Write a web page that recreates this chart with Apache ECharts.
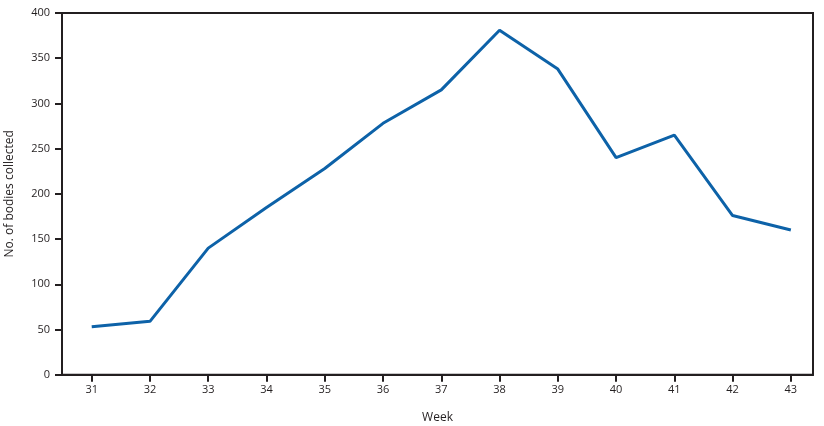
<!DOCTYPE html>
<html><head><meta charset="utf-8">
<script src="https://cdn.jsdelivr.net/npm/echarts@6/dist/echarts.min.js"></script>
<style>html,body{margin:0;padding:0;background:#fff}#c{width:824px;height:426px}</style>
</head><body><div id="c"></div>
<script>
const weeks = [31,32,33,34,35,36,37,38,39,40,41,42,43];
const bodies = [53,59,140,185,228,278,315,381,338,240,265,176,160];
const yTicks = [0,50,100,150,200,250,300,350,400];
const xTitle = 'Week';
const yTitle = 'No. of bodies collected';

const ink = '#231f20';
const font = '"Open Sans", "Noto Sans", sans-serif';
const chart = echarts.init(document.getElementById('c'), null, {renderer:'canvas'});
chart.setOption({
  animation:false,
  grid:{left:62,right:11,top:13,bottom:51.3,outerBoundsMode:'none',containLabel:false,show:true,borderColor:ink,borderWidth:2,backgroundColor:'transparent'},
  xAxis:{
    type:'value', min:30.49, max:43.38,
    name:xTitle, nameLocation:'middle', nameGap:37,
    nameTextStyle:{fontFamily:font,fontSize:12,color:ink},
    axisLine:{show:true,onZero:false,lineStyle:{color:ink,width:2}},
    axisTick:{show:true,length:7,lineStyle:{color:ink,width:2},customValues:weeks},
    axisLabel:{fontFamily:font,fontSize:11,color:ink,margin:10,customValues:weeks},
    splitLine:{show:false}
  },
  yAxis:{
    type:'value', min:0, max:400, interval:50,
    name:yTitle, nameLocation:'middle', nameGap:46, nameRotate:90,
    nameTextStyle:{fontFamily:font,fontSize:12,color:ink},
    axisLine:{show:true,lineStyle:{color:ink,width:2}},
    axisTick:{show:true,length:7,lineStyle:{color:ink,width:2},customValues:yTicks},
    axisLabel:{fontFamily:font,fontSize:11,color:ink,margin:12,customValues:yTicks},
    splitLine:{show:false}
  },
  series:[{
    type:'line',
    data:weeks.map((w,i)=>[w,bodies[i]]),
    showSymbol:false,
    lineStyle:{color:'#0d62a8',width:3},
    itemStyle:{color:'#0d62a8'}
  }]
});
</script></body></html>
